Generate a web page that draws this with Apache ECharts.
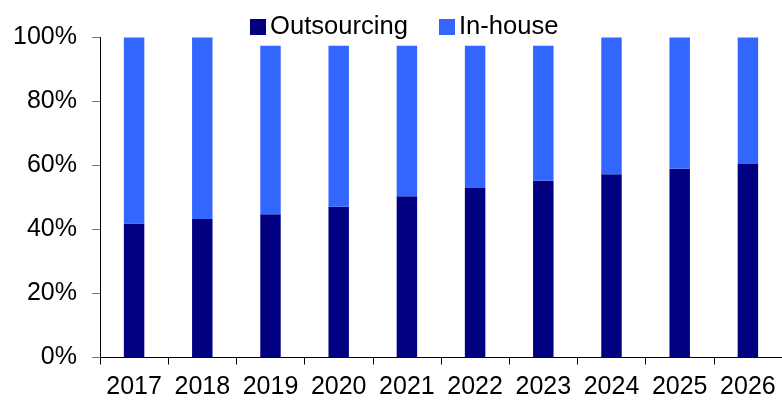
<!DOCTYPE html>
<html>
<head>
<meta charset="utf-8">
<script src="https://cdn.jsdelivr.net/npm/echarts@6/dist/echarts.min.js"></script>
<style>
  html, body { margin: 0; padding: 0; background: #fff; }
  #chart { width: 782px; height: 400px; }
</style>
</head>
<body>
<div id="chart"></div>
<script>
// Share of work by sourcing model, per year (percent)
const years = ['2017', '2018', '2019', '2020', '2021', '2022', '2023', '2024', '2025', '2026'];
const outsourcing = [41.9, 43.3, 44.8, 47.1, 50.4, 53.0, 55.2, 57.3, 59.0, 60.5];
const inHouse = [58.1, 56.7, 52.6, 50.3, 47.0, 44.4, 42.2, 42.7, 41.0, 39.5];
const seriesNames = ['Outsourcing', 'In-house'];

const FONT = 'Liberation Sans, Arial, sans-serif';

const chart = echarts.init(document.getElementById('chart'), null, { renderer: 'canvas' });

chart.setOption({
  animation: false,
  backgroundColor: '#ffffff',
  textStyle: { fontFamily: FONT },
  legend: {
    data: seriesNames,
    left: 245,
    top: 9,
    itemWidth: 16,
    itemHeight: 16,
    itemGap: 31,
    icon: 'rect',
    textStyle: { fontFamily: FONT, fontSize: 25.6, color: '#000', padding: [0, 0, 0, -1] }
  },
  grid: { left: 100, top: 37.5, width: 686, height: 320 },
  xAxis: {
    type: 'category',
    data: years,
    boundaryGap: true,
    axisLine: { lineStyle: { color: '#000', width: 1 } },
    axisTick: { show: true, interval: 0, length: 7, lineStyle: { color: '#000' } },
    axisLabel: { fontFamily: FONT, fontSize: 25, color: '#000', margin: 17, interval: 0 }
  },
  yAxis: {
    type: 'value',
    min: 0,
    max: 100,
    interval: 20,
    axisLine: { show: true, lineStyle: { color: '#000', width: 1 } },
    axisTick: { show: true, inside: false, length: 8, lineStyle: { color: '#777' } },
    splitLine: { show: false },
    axisLabel: { fontFamily: FONT, fontSize: 25, color: '#000', margin: 23, formatter: '{value}%' }
  },
  series: [
    {
      name: seriesNames[0],
      type: 'bar',
      stack: 'total',
      data: outsourcing,
      barWidth: '30%',
      itemStyle: { color: '#000080' }
    },
    {
      name: seriesNames[1],
      type: 'bar',
      stack: 'total',
      data: inHouse,
      barWidth: '30%',
      itemStyle: { color: '#3366FF' }
    }
  ]
});
</script>
</body>
</html>
